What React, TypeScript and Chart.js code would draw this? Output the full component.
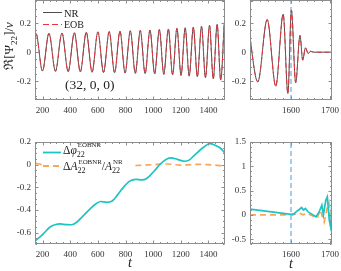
import React, { useEffect, useRef } from "react";
import { Chart, registerables } from "chart.js";
Chart.register(...registerables);

const FONT = '"Liberation Serif", "DejaVu Serif", serif';

// ---------- data: top panels, Re[Psi22]/nu (extrema) ----------
const wavePeakT = [152, 246, 340, 430, 516, 600, 682, 760, 835, 907, 977, 1045, 1110, 1172, 1232, 1291, 1350, 1408, 1463, 1515];
const wavePeakV = [0.13, 0.13, 0.132, 0.134, 0.137, 0.14, 0.142, 0.145, 0.148, 0.15, 0.153, 0.156, 0.16, 0.164, 0.168, 0.173, 0.178, 0.185, 0.192, 0.205];
const waveTroughT = [105, 199, 293, 385, 473, 558, 641, 721, 797, 871, 942, 1011, 1077, 1141, 1202, 1261, 1320, 1379, 1435, 1489];
const waveTroughV = [-0.13, -0.13, -0.132, -0.134, -0.136, -0.138, -0.14, -0.142, -0.144, -0.146, -0.148, -0.15, -0.153, -0.156, -0.16, -0.165, -0.17, -0.176, -0.184, -0.193];

const mergerT = [1490, 1515, 1539, 1561, 1580, 1592, 1601, 1612, 1623, 1630, 1637, 1644, 1650, 1658, 1705];
const mergerV = [0.2, -0.205, 0.225, -0.235, 0.262, -0.285, 0.29, -0.21, 0.115, -0.055, 0.03, -0.01, 0.006, 0, 0];

// ---------- data: bottom panels ----------
const phaseT = [150, 205, 254, 290, 326, 374, 411, 447, 495, 544, 592, 620, 664, 701, 737, 785, 830, 875, 920, 950, 1005, 1053, 1099, 1130, 1174, 1225, 1260, 1300, 1367, 1410, 1450, 1488, 1520];
const phaseV = [-0.67, -0.61, -0.55, -0.53, -0.523, -0.529, -0.53, -0.508, -0.45, -0.39, -0.34, -0.325, -0.332, -0.323, -0.275, -0.2, -0.145, -0.13, -0.135, -0.125, -0.06, 0.006, 0.05, 0.06, 0.047, 0.03, 0.04, 0.085, 0.156, 0.185, 0.17, 0.145, 0.1];
const ampT = [150, 220, 300, 400, 500, 600, 700, 800, 900, 1000, 1100, 1200, 1300, 1400, 1520];
const ampV = [0.012, -0.005, -0.01, -0.006, 0.0, -0.008, -0.004, -0.01, -0.006, 0.0, 0.006, -0.004, 0.002, 0.0, -0.012];

const phaseLateT = [1495, 1600, 1607, 1613, 1621, 1627, 1632, 1637, 1644, 1652, 1664, 1672, 1679, 1683, 1689, 1693, 1698, 1702, 1705];
const phaseLateV = [0.12, 0.01, 0.02, 0.06, 0.11, 0.15, 0.1, 0.13, 0.06, 0.02, -0.04, 0.06, 0.2, 0.0, 0.3, 0.37, -0.11, -0.26, 0.37];
const ampLateT = [1495, 1605, 1613, 1621, 1631, 1640, 1650, 1660, 1667, 1675, 1685, 1693, 1697, 1702, 1705];
const ampLateV = [0, 0, 0.02, 0.04, 0.0, 0.03, 0.0, -0.04, -0.07, 0.1, -0.15, 0.15, 0.25, -0.3, -0.1];

const peakTime = 1600;

// ---------- ticks ----------
const leftXTicks = [200, 400, 600, 800, 1000, 1200, 1400];
const rightXTicks = [1600, 1700];
const topYTicks = [-0.2, 0, 0.2];
const botLeftYTicks = [-0.6, -0.4, -0.2, 0, 0.2];
const botRightYTicks = [-0.5, 0, 0.5, 1, 1.5];

// ---------- helpers ----------
type Pt = { x: number; y: number };
const pts = (ts: number[], vs: number[]): Pt[] => ts.map((t, i) => ({ x: t, y: vs[i] }));
const merged = (a: Pt[], b: Pt[]) => [...a, ...b].sort((p, q) => p.x - q.x);

const NR_COLOR = "#4d4d4d";
const EOB_COLOR = "#e8333c";
const CYAN = "#1cc4c4";
const ORANGE = "#f9a55a";
const VLINE = "#4f9ad6";
const TEXT = "#222";

type Seg = { t: string; it?: boolean; sub?: string; sup?: string };

function font(size: number, it?: boolean) {
  return `${it ? "italic " : ""}${size}px ${FONT}`;
}
function richWidth(ctx: CanvasRenderingContext2D, segs: Seg[], size: number) {
  let w = 0;
  for (const s of segs) {
    ctx.font = font(size, s.it);
    w += ctx.measureText(s.t).width;
    let e = 0;
    if (s.sub) { ctx.font = font(size * 0.7); e = Math.max(e, ctx.measureText(s.sub).width); }
    if (s.sup) { ctx.font = font(size * 0.58); e = Math.max(e, ctx.measureText(s.sup).width); }
    w += e;
  }
  return w;
}
function drawRich(ctx: CanvasRenderingContext2D, x: number, y: number, segs: Seg[], size: number, subOff = 0.32, supOff = 0.62, supScale = 0.58) {
  ctx.textBaseline = "alphabetic";
  ctx.textAlign = "left";
  let cx = x;
  for (const s of segs) {
    ctx.font = font(size, s.it);
    ctx.fillText(s.t, cx, y);
    cx += ctx.measureText(s.t).width;
    let e = 0;
    if (s.sub) {
      ctx.font = font(size * 0.7);
      ctx.fillText(s.sub, cx, y + size * subOff);
      e = Math.max(e, ctx.measureText(s.sub).width);
    }
    if (s.sup) {
      ctx.font = font(size * supScale);
      ctx.fillText(s.sup, cx + 1, y - size * supOff);
      e = Math.max(e, ctx.measureText(s.sup).width + 1);
    }
    cx += e;
  }
}
function legendLine(ctx: CanvasRenderingContext2D, x0: number, x1: number, y: number, color: string, width: number, dash: number[]) {
  ctx.save();
  ctx.strokeStyle = color;
  ctx.lineWidth = width;
  ctx.setLineDash(dash);
  ctx.beginPath();
  ctx.moveTo(x0, y);
  ctx.lineTo(x1, y);
  ctx.stroke();
  ctx.restore();
}

interface Spec {
  W: number; H: number; left: number; top: number;
  yw: number; padTop: number; padRight: number; xh: number;
  xMin: number; xMax: number; yMin: number; yMax: number;
  xTicks: number[]; yTicks: number[]; xMinor: number; yMinor: number;
  datasets: any[];
  draw?: (ctx: CanvasRenderingContext2D, chart: any) => void;
}

const framePlugin = {
  id: "panelFrame",
  afterDraw(chart: any, _args: any, opts: any) {
    const s: Spec = opts.spec;
    const ctx: CanvasRenderingContext2D = chart.ctx;
    const a = chart.chartArea;
    const xs = chart.scales.x;
    const ys = chart.scales.y;
    ctx.save();
    if (s.draw) s.draw(ctx, chart);
    const L = Math.round(a.left) + 0.5, R = Math.round(a.right) - 0.5;
    const T = Math.round(a.top) + 0.5, B = Math.round(a.bottom) - 0.5;
    ctx.strokeStyle = "#8c8c8c";
    ctx.lineWidth = 1;
    ctx.setLineDash([]);
    ctx.strokeRect(L, T, R - L, B - T);
    ctx.beginPath();
    const xt = (v: number, len: number) => {
      const p = Math.round(xs.getPixelForValue(v)) + 0.5;
      ctx.moveTo(p, B); ctx.lineTo(p, B - len);
      ctx.moveTo(p, T); ctx.lineTo(p, T + len);
    };
    const yt = (v: number, len: number) => {
      const p = Math.round(ys.getPixelForValue(v)) + 0.5;
      ctx.moveTo(L, p); ctx.lineTo(L + len, p);
      ctx.moveTo(R, p); ctx.lineTo(R - len, p);
    };
    for (let k = Math.ceil(s.xMin / s.xMinor); k * s.xMinor <= s.xMax; k++) xt(k * s.xMinor, 1.5);
    for (let k = Math.ceil(s.yMin / s.yMinor - 1e-9); k * s.yMinor <= s.yMax + 1e-9; k++) yt(k * s.yMinor, 1.5);
    s.xTicks.forEach((v) => xt(v, 3));
    s.yTicks.forEach((v) => yt(v, 3));
    ctx.stroke();
    ctx.restore();
  },
};

const tickFont = { family: FONT, size: 9 };

function buildConfig(s: Spec): any {
  return {
    type: "line",
    data: { datasets: s.datasets },
    options: {
      responsive: false,
      maintainAspectRatio: false,
      animation: false,
      events: [],
      layout: { padding: { left: 0, top: s.padTop, right: s.padRight, bottom: 0 } },
      plugins: { legend: { display: false }, tooltip: { enabled: false }, panelFrame: { spec: s } },
      elements: { point: { radius: 0 } },
      scales: {
        x: {
          type: "linear", min: s.xMin, max: s.xMax,
          grid: { display: false, drawTicks: false }, border: { display: false },
          ticks: { padding: 5, font: tickFont, color: "#333", maxRotation: 0, autoSkip: false, callback: (v: number) => String(v) },
          afterBuildTicks: (sc: any) => { sc.ticks = s.xTicks.map((v) => ({ value: v })); },
          afterFit: (sc: any) => { sc.height = s.xh; sc.paddingLeft = 0; sc.paddingRight = 0; },
        },
        y: {
          type: "linear", min: s.yMin, max: s.yMax,
          grid: { display: false, drawTicks: false }, border: { display: false },
          ticks: { padding: 4, font: tickFont, color: "#333", autoSkip: false, callback: (v: number) => String(v) },
          afterBuildTicks: (sc: any) => { sc.ticks = s.yTicks.map((v) => ({ value: v })); },
          afterFit: (sc: any) => { sc.width = s.yw; sc.paddingTop = 0; sc.paddingBottom = 0; },
        },
      },
    },
    plugins: [framePlugin],
  };
}

function Panel({ spec }: { spec: Spec }) {
  const ref = useRef<HTMLCanvasElement>(null);
  useEffect(() => {
    const chart = new Chart(ref.current as HTMLCanvasElement, buildConfig(spec));
    return () => chart.destroy();
  }, []);
  return (
    <canvas
      ref={ref}
      width={spec.W}
      height={spec.H}
      style={{ position: "absolute", left: spec.left, top: spec.top, width: spec.W, height: spec.H }}
    />
  );
}

const waveData = merged(pts(wavePeakT, wavePeakV), pts(waveTroughT, waveTroughV));
const mergerData = pts(mergerT, mergerV);

const TOP_Y = { yMin: -0.33, yMax: 0.36 };
const BL_Y = { yMin: -0.7, yMax: 0.2 };
const BR_Y = { yMin: -0.6, yMax: 1.5 };

const waveSets = (data: Pt[]) => [
  { label: "EOB", data, borderColor: EOB_COLOR, borderWidth: 1, borderDash: [5, 3], cubicInterpolationMode: "monotone", pointRadius: 0 },
  { label: "NR", data, borderColor: NR_COLOR, borderWidth: 1, cubicInterpolationMode: "monotone", pointRadius: 0 },
];
const vlineSet = (yMin: number, yMax: number) => ({
  label: "peak", data: [{ x: peakTime, y: yMin }, { x: peakTime, y: yMax }],
  borderColor: VLINE, borderWidth: 1, borderDash: [5, 3], pointRadius: 0,
});

const specTL: Spec = {
  W: 230, H: 125, left: 0, top: 0, yw: 35, padTop: 0, padRight: 5, xh: 25,
  xMin: 145, xMax: 1520, ...TOP_Y, xTicks: leftXTicks, yTicks: topYTicks, xMinor: 50, yMinor: 0.05,
  datasets: waveSets(waveData),
  draw: (ctx) => {
    legendLine(ctx, 43, 62, 12.5, NR_COLOR, 1, []);
    legendLine(ctx, 43, 62, 24.5, EOB_COLOR, 1, [6, 3]);
    ctx.fillStyle = TEXT;
    drawRich(ctx, 64, 16.5, [{ t: "NR" }], 10.5);
    drawRich(ctx, 64, 28, [{ t: "EOB" }], 10);
    drawRich(ctx, 65, 88.5, [{ t: "(32, 0, 0)" }], 13.5);
    const title: Seg[] = [{ t: "ℜ" }, { t: "[" }, { t: "Ψ", sub: "22" }, { t: "]" }, { t: "/" }, { t: "ν", it: true }];
    const size = 13;
    const w = richWidth(ctx, title, size);
    ctx.save();
    ctx.translate(13, 46);
    ctx.rotate(-Math.PI / 2);
    drawRich(ctx, -w / 2, 0, title, size);
    ctx.restore();
  },
};

const specTR: Spec = {
  W: 113, H: 125, left: 228, top: 0, yw: 22, padTop: 0, padRight: 9, xh: 25,
  xMin: 1495, xMax: 1705, ...TOP_Y, xTicks: rightXTicks, yTicks: topYTicks, xMinor: 20, yMinor: 0.05,
  datasets: [...waveSets(mergerData), vlineSet(TOP_Y.yMin, TOP_Y.yMax)],
};

const specBL: Spec = {
  W: 230, H: 141, left: 0, top: 130, yw: 35, padTop: 12, padRight: 5, xh: 27,
  xMin: 145, xMax: 1520, ...BL_Y, xTicks: leftXTicks, yTicks: botLeftYTicks, xMinor: 50, yMinor: 0.05,
  datasets: [
    { label: "dphi", data: pts(phaseT, phaseV), borderColor: CYAN, borderWidth: 1.7, cubicInterpolationMode: "monotone", pointRadius: 0 },
    { label: "dA", data: pts(ampT, ampV), borderColor: ORANGE, borderWidth: 1.7, borderDash: [6, 4], cubicInterpolationMode: "monotone", pointRadius: 0 },
  ],
  draw: (ctx) => {
    ctx.fillStyle = "#fff";
    ctx.fillRect(42, 13, 90, 32);
    legendLine(ctx, 43, 61, 22.5, CYAN, 1.8, []);
    legendLine(ctx, 43, 61, 36, ORANGE, 1.8, [6, 4]);
    ctx.fillStyle = TEXT;
    drawRich(ctx, 63, 24, [{ t: "Δ" }, { t: "φ", it: true, sub: "22", sup: "EOBNR" }], 11.5, 0.22, 0.58, 0.6);
    drawRich(ctx, 63, 40, [{ t: "Δ" }, { t: "A", it: true, sub: "22", sup: "EOBNR" }, { t: "/" }, { t: "A", it: true, sub: "22", sup: "NR" }], 11.5, 0.22, 0.55, 0.6);
    ctx.font = font(14, true);
    ctx.textAlign = "center";
    ctx.fillText("t", 130, 137);
  },
};

const specBR: Spec = {
  W: 113, H: 141, left: 228, top: 130, yw: 22, padTop: 12, padRight: 9, xh: 27,
  xMin: 1495, xMax: 1705, ...BR_Y, xTicks: rightXTicks, yTicks: botRightYTicks, xMinor: 20, yMinor: 0.1,
  datasets: [
    { label: "dphi", data: pts(phaseLateT, phaseLateV), borderColor: CYAN, borderWidth: 1.7, tension: 0, pointRadius: 0 },
    { label: "dA", data: pts(ampLateT, ampLateV), borderColor: ORANGE, borderWidth: 1.7, borderDash: [6, 4], tension: 0, pointRadius: 0 },
    vlineSet(BR_Y.yMin, BR_Y.yMax),
  ],
  draw: (ctx) => {
    ctx.fillStyle = TEXT;
    ctx.font = font(14, true);
    ctx.textAlign = "center";
    ctx.fillText("t", 63, 138);
  },
};

export default function App() {
  return (
    <div style={{ position: "fixed", left: 0, top: 0, width: 341, height: 271, background: "#fff", overflow: "hidden" }}>
      <Panel spec={specTL} />
      <Panel spec={specTR} />
      <Panel spec={specBL} />
      <Panel spec={specBR} />
    </div>
  );
}
